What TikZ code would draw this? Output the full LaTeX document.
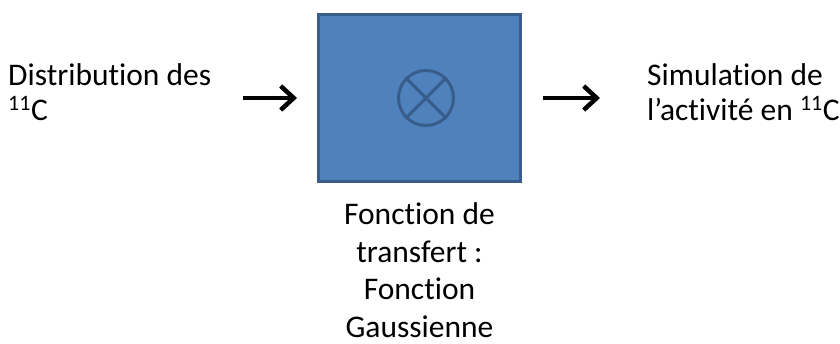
\documentclass[tikz,border=0pt]{standalone}
\usepackage{fontspec}
\setmainfont{Carlito}[Ligatures=NoCommon]
\usetikzlibrary{arrows.meta,positioning}
\definecolor{blockfill}{HTML}{4F81BD}
\definecolor{blockline}{HTML}{385D8A}
\newcommand{\isotope}{\textsuperscript{11}C}
\tikzset{
  txt/.style={inner sep=0pt,align=left,font=\fontsize{31.5}{35}\selectfont},
  flow/.style={line width=4pt,-{Straight Barb[length=13pt,width=24pt,line width=4.5pt]}}
}

\begin{document}
\begin{tikzpicture}[x=1pt,y=-1pt]
  \useasboundingbox (0,0) rectangle (840,343);
  % transfer block
  \node[draw=blockline,fill=blockfill,line width=3pt,minimum width=202pt,minimum height=167pt,inner sep=0pt] (block) at (419.5,98) {};
  \node[circle,draw=blockline,line width=3pt,minimum size=55pt,inner sep=0pt] (mult) at (426,98) {};
  \draw[blockline,line width=3pt] (mult.north west)--(mult.south east) (mult.north east)--(mult.south west);
  % input / output (base = last line)
  \node[txt,anchor=base west] (src) at (8,120) {Distribution des\\\isotope};
  \node[txt,anchor=base west] (dst) at (647,120) {Simulation de\\l’activité en \isotope};
  \node[txt,align=center,anchor=base,font=\fontsize{31.5}{37.5}\selectfont] (legend) at (419.5,337)
    {Fonction de\\transfert :\\Fonction\\Gaussienne};
  \draw[flow,shorten <=32pt,shorten >=20pt] (src.east |- block.west)--(block.west);
  \draw[flow,shorten <=21pt,shorten >=47pt] (block.east)--(dst.west |- block.east);
\end{tikzpicture}
\end{document}
